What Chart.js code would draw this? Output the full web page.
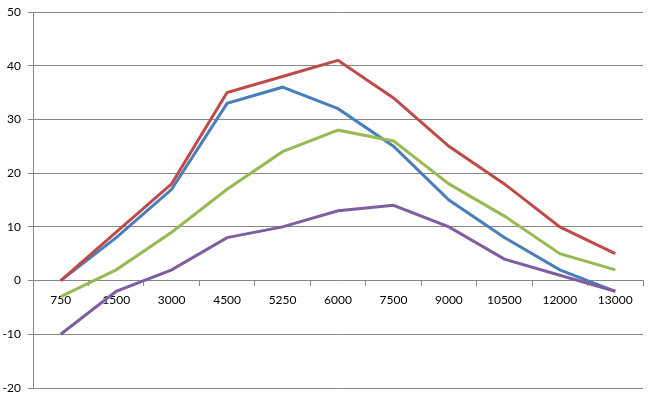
<!DOCTYPE html>
<html>
<head>
<meta charset="utf-8">
<script src="https://cdn.jsdelivr.net/npm/chart.js@4"></script>
<style>
  html, body { margin: 0; padding: 0; background: #fff; }
  #wrap { width: 657px; height: 396px; }
</style>
</head>
<body>
<div id="wrap"><canvas id="line-chart"></canvas></div>
<script>
var labels = ["750","1500","3000","4500","5250","6000","7500","9000","10500","12000","13000"];
var blue   = [0, 8, 17, 33, 36, 32, 25, 15, 8, 2, -2];
var red    = [0, 9, 18, 35, 38, 41, 34, 25, 18, 10, 5];
var green  = [-3, 2, 9, 17, 24, 28, 26, 18, 12, 5, 2];
var purple = [-10, -2, 2, 8, 10, 13, 14, 10, 4, 1, -2];
var yTicks = [-20, -10, 0, 10, 20, 30, 40, 50];

function series(data, color) {
  return {
    data: data,
    borderColor: color,
    backgroundColor: color,
    borderWidth: 3,
    pointRadius: 0,
    tension: 0,
    fill: false
  };
}

new Chart(document.getElementById("line-chart"), {
  type: 'line',
  data: {
    labels: labels,
    // first dataset is drawn on top
    datasets: [
      series(purple, "#7D5FA0"),
      series(green, "#98B954"),
      series(red, "#BE4B48"),
      series(blue, "#4A7EBB")
    ]
  },
  options: {
    responsive: true,
    maintainAspectRatio: false,
    animation: false,
    layout: { padding: { top: 12, right: 14, bottom: 8, left: 0 } },
    plugins: { legend: { display: false }, tooltip: { enabled: false } },
    scales: {
      x: {
        position: { y: 0 },
        offset: true,
        afterFit: function(s) {
          s.height = 0;
          s.paddingTop = 0; s.paddingBottom = 0; s.paddingLeft = 0; s.paddingRight = 0;
        },
        grid: { offset: true, drawOnChartArea: false, drawTicks: true, tickLength: 5, color: "#868686" },
        border: { display: true, color: "#868686" },
        ticks: { color: "#000", font: { family: "Lato", size: 12 }, padding: 7, maxRotation: 0, autoSkip: false }
      },
      y: {
        min: yTicks[0],
        max: yTicks[yTicks.length - 1],
        afterFit: function(s) {
          s.width = 33;
          s.paddingTop = 0; s.paddingBottom = 0;
        },
        afterBuildTicks: function(s) { s.ticks = yTicks.map(function(v) { return { value: v }; }); },
        grid: { color: "#868686", tickLength: 5 },
        border: { display: true, color: "#868686" },
        ticks: { color: "#000", font: { family: "Lato", size: 12 }, padding: 7 }
      }
    }
  }
});
</script>
</body>
</html>
